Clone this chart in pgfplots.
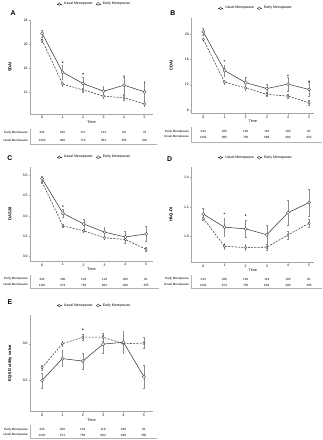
\documentclass[border=0pt]{standalone}
\usepackage{fontspec}
\setmainfont{Liberation Sans}
\usepackage{pgfplots}
\pgfplotsset{compat=1.18}

\definecolor{linec}{gray}{0.22}
\definecolor{errc}{gray}{0.55}

\pgfplotsset{
 panel/.style={
  scale only axis, axis lines*=left, clip=false,
  axis line style={gray!70, line width=0.35pt},
  tick style={gray!70, line width=0.3pt}, tick align=outside, major tick length=1.5pt,
  xtick={0,...,5},
  /pgf/number format/assume math mode=true,
  ticklabel style={font=\fontsize{3.5}{4}\selectfont, inner sep=1pt},
  xlabel={Time},
  xlabel style={font=\fontsize{3.8}{4}\selectfont, at={(axis description cs:0.5,0)}, anchor=center, yshift=-8.5pt},
  ylabel style={font=\fontsize{4.2}{5}\selectfont\bfseries, at={(axis description cs:0,0.5)}, anchor=center, yshift=20.5pt},
  legend style={draw=none, fill=none, font=\fontsize{3.6}{4}\selectfont, at={(axis description cs:0.5,1)}, anchor=south, xshift=3pt, yshift=5.5pt, legend columns=2, inner sep=0pt, /tikz/every even column/.append style={column sep=0.8pt}},
  legend image code/.code={\draw[mark repeat=2,mark phase=2,##1] plot coordinates {(0pt,0pt) (2.5pt,0pt) (5pt,0pt)};},
 },
 usual/.style={color=linec, line width=0.55pt, dash pattern=on 2pt off 1.3pt, mark=diamond*, mark size=1.5pt, mark options={solid, fill=white, line width=0.35pt},
   error bars/.cd, y dir=both, y explicit, error bar style={errc, line width=0.3pt, solid}, error mark options={rotate=90, mark size=0.8pt, errc, line width=0.3pt}},
 early/.style={color=linec, line width=0.55pt, solid, mark=*, mark size=1.6pt, mark options={solid, fill=white, line width=0.35pt},
   error bars/.cd, y dir=both, y explicit, error bar style={errc, line width=0.3pt, solid}, error mark options={rotate=90, mark size=0.9pt, errc, line width=0.3pt}},
 star/.style={only marks, mark=asterisk, mark size=0.8pt, color=linec, line width=0.3pt, forget plot},
}

\tikzset{tbl/.style={font=\fontsize{3.1}{3.5}\selectfont, inner sep=0pt}}

% #1 x0, #2 dx, #3 yEarly, #4 yUsual, #5 line x, #6 line top, #7 line bottom, #8 early, #9 usual
\newcommand{\ntable}[9]{%
 \node[tbl, anchor=east] at (#5-2.5, 440-#3) {Early Menopause};
 \node[tbl, anchor=east] at (#5-2.5, 440-#4) {Usual Menopause};
 \foreach \v [count=\i from 0] in {#8} \node[tbl] at (#1+#2*\i, 440-#3) {\v};
 \foreach \v [count=\i from 0] in {#9} \node[tbl] at (#1+#2*\i, 440-#4) {\v};
 \draw[gray!60, line width=0.3pt] (#5,440-#6) -- (#5,440-#7) -- (#1+5*#2+13, 440-#7);
}

\begin{document}
\begin{tikzpicture}[x=1pt,y=1pt]
\path (0,0) rectangle (324,440);

% ---------------- A
\begin{axis}[panel, at={(30.7pt,331pt)}, anchor=south west, width=124.3pt, height=95.2pt,
  xmin=-0.577, xmax=5.399, ymin=8.46, ymax=24, ytick={12,16,20,24}, ylabel={SDAI},
  legend style={yshift=6.5pt}]
\addplot+[usual] coordinates {(0,20.65)+-(0,0.25) (1,13.4)+-(0,0.3) (2,12.4)+-(0,0.35) (3,11.4)+-(0,0.35) (4,11.1)+-(0,0.4) (5,10.1)+-(0,0.45)};
\addlegendentry{Usual Menopause}
\addplot+[early] coordinates {(0,21.8)+-(0,0.6) (1,15.36)+-(0,1.2) (2,13.47)+-(0,1.1) (3,12.2)+-(0,0.9) (4,13.2)+-(0,1.4) (5,12.1)+-(0,1.5)};
\addlegendentry{Early Menopause}
\addplot[star] coordinates {(1,17.0) (2,15.1) (4,14.7) (5,13.7)};
\end{axis}
\ntable{42.7}{20.8}{128.3}{136}{31}{124.3}{140}{244,192,137,114,89,76}{1202,900,715,563,455,316}
\node[font=\fontsize{7}{8}\selectfont\bfseries] at (13.3,440-6.7) {A};

% ---------------- B
\begin{axis}[panel, at={(194.3pt,331.7pt)}, anchor=south west, width=124.4pt, height=96.6pt,
  xmin=-0.559, xmax=5.233, ymin=7.5, ymax=22.6, ytick={8,12,16,20}, ylabel={CDAI}]
\addplot+[usual] coordinates {(0,19.2)+-(0,0.25) (1,12.44)+-(0,0.3) (2,11.5)+-(0,0.3) (3,10.47)+-(0,0.3) (4,10.2)+-(0,0.35) (5,9.16)+-(0,0.4)};
\addlegendentry{Usual Menopause}
\addplot+[early] coordinates {(0,20.4)+-(0,0.6) (1,14.27)+-(0,0.9) (2,12.34)+-(0,0.8) (3,11.4)+-(0,0.7) (4,12.1)+-(0,1.1) (5,11.25)+-(0,1.1)};
\addlegendentry{Early Menopause}
\addplot[star] coordinates {(1,15.8) (4,13.5) (5,12.55)};
\end{axis}
\ntable{206.3}{21.48}{126.7}{132.7}{194.3}{122.5}{137.3}{244,200,149,118,100,81}{1202,965,758,588,484,352}
\node[font=\fontsize{7}{8}\selectfont\bfseries] at (175.3,440-7.3) {B};

% ---------------- C
\begin{axis}[panel, at={(30.7pt,181.7pt)}, anchor=south west, width=124.3pt, height=95.6pt,
  xmin=-0.568, xmax=5.317, ymin=2.89, ymax=5.21, ytick={3.0,3.5,4.0,4.5,5.0}, ylabel={DAS28},
  yticklabel style={/pgf/number format/.cd, fixed, fixed zerofill, precision=1}]
\addplot+[usual] coordinates {(0,4.835)+-(0,0.03) (1,3.757)+-(0,0.03) (2,3.63)+-(0,0.035) (3,3.46)+-(0,0.035) (4,3.42)+-(0,0.04) (5,3.175)+-(0,0.045)};
\addlegendentry{Usual Menopause}
\addplot+[early] coordinates {(0,4.915)+-(0,0.07) (1,4.066)+-(0,0.1) (2,3.80)+-(0,0.12) (3,3.60)+-(0,0.12) (4,3.48)+-(0,0.15) (5,3.555)+-(0,0.18)};
\addlegendentry{Early Menopause}
\addplot[star] coordinates {(1,4.24)};
\end{axis}
\ntable{42.7}{21.12}{276.7}{282.7}{31}{272.5}{285.7}{232,200,149,119,100,81}{1125,973,758,604,490,355}
\node[font=\fontsize{7}{8}\selectfont\bfseries] at (10,440-154) {C};

% ---------------- D
\begin{axis}[panel, at={(194.3pt,180.7pt)}, anchor=south west, width=124.4pt, height=96pt,
  xmin=-0.559, xmax=5.233, ymin=0.827, ymax=1.467, ytick={1.0,1.2,1.4}, ylabel={HAQ-DI},
  yticklabel style={/pgf/number format/.cd, fixed, fixed zerofill, precision=1}]
\addplot+[usual] coordinates {(0,1.122)+-(0,0.015) (1,0.933)+-(0,0.02) (2,0.924)+-(0,0.02) (3,0.927)+-(0,0.022) (4,1.009)+-(0,0.025) (5,1.089)+-(0,0.03)};
\addlegendentry{Usual Menopause}
\addplot+[early] coordinates {(0,1.151)+-(0,0.039) (1,1.062)+-(0,0.058) (2,1.051)+-(0,0.059) (3,1.011)+-(0,0.067) (4,1.16)+-(0,0.083) (5,1.229)+-(0,0.09)};
\addlegendentry{Early Menopause}
\addplot[star] coordinates {(1,1.155) (2,1.144)};
\end{axis}
\ntable{206.3}{21.48}{276.7}{282.7}{194.3}{272.5}{286}{244,200,149,119,100,81}{1202,973,758,604,490,355}
\node[font=\fontsize{7}{8}\selectfont\bfseries] at (172,440-155) {D};

% ---------------- E
\begin{axis}[panel, at={(30.7pt,29pt)}, anchor=south west, width=124.3pt, height=97.7pt,
  xmin=-0.581, xmax=5.436, ymin=0.413, ymax=0.679, ytick={0.5,0.6}, ylabel={EQ-5D utility value},
  yticklabel style={/pgf/number format/.cd, fixed, fixed zerofill, precision=1}]
\addplot+[usual] coordinates {(0,0.534)+-(0,0.008) (1,0.600)+-(0,0.008) (2,0.618)+-(0,0.009) (3,0.618)+-(0,0.01) (4,0.600)+-(0,0.011) (5,0.602)+-(0,0.015)};
\addlegendentry{Usual Menopause}
\addplot+[early] coordinates {(0,0.499)+-(0,0.021) (1,0.559)+-(0,0.022) (2,0.552)+-(0,0.023) (3,0.599)+-(0,0.026) (4,0.604)+-(0,0.03) (5,0.509)+-(0,0.033)};
\addlegendentry{Early Menopause}
\addplot[star] coordinates {(2,0.64)};
\end{axis}
\ntable{42.7}{20.66}{429.3}{435}{31}{425}{437.7}{243,200,149,119,100,81}{1201,973,758,604,490,355}
\node[font=\fontsize{7}{8}\selectfont\bfseries] at (10,440-300) {E};
\end{tikzpicture}
\end{document}
